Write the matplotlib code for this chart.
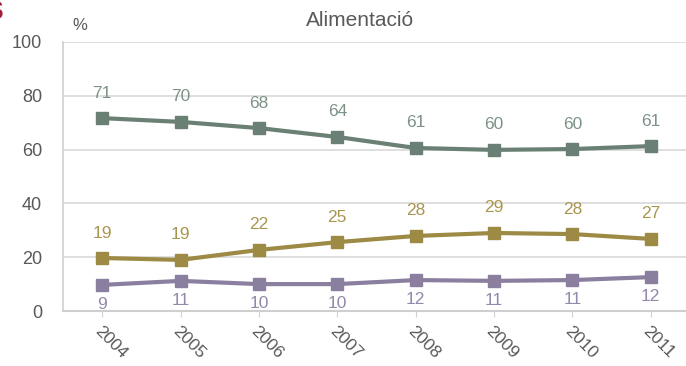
"""
Alimentació: percentage series 2004-2011
"""

import numpy as np
from matplotlib import pyplot as plt

years = ['2004', '2005', '2006', '2007', '2008', '2009', '2010', '2011']
green_vals = [71.7, 70.3, 68.0, 64.7, 60.6, 59.9, 60.2, 61.3]
green_labels = ['71', '70', '68', '64', '61', '60', '60', '61']
gold_vals = [19.7, 19.0, 22.7, 25.6, 27.9, 29.0, 28.6, 26.8]
gold_labels = ['19', '19', '22', '25', '28', '29', '28', '27']
purple_vals = [9.7, 11.2, 10.0, 10.0, 11.5, 11.2, 11.5, 12.6]
purple_labels = ['9', '11', '10', '10', '12', '11', '11', '12']


def main():
    plt.rcParams['font.family'] = ['Liberation Sans', 'DejaVu Sans']
    fig = plt.figure(figsize=(6.86, 3.66), dpi=100)
    ax = fig.add_axes([63 / 686, 55 / 366, 623 / 686, 269 / 366])

    x = np.arange(len(years))
    series = [
        (green_vals, green_labels, '#6a8074', '#7d9286', 1),
        (gold_vals, gold_labels, '#9c8a45', '#a8964f', 1),
        (purple_vals, purple_labels, '#8b7fa0', '#9488aa', -1),
    ]
    for vals, labels, color, lcolor, side in series:
        ax.plot(x, vals, '-', color=color, lw=3, marker='s', markersize=9,
                solid_capstyle='round', zorder=3)
        for xi, v, lab in zip(x, vals, labels):
            off = 18 if side > 0 else -14
            ax.annotate(lab, (xi, v), xytext=(0, off), textcoords='offset points',
                        ha='center', va='center', color=lcolor, fontsize=12.5)

    ax.set_ylim(0, 100)
    ax.set_xlim(-0.5, 7.45)
    ax.set_yticks(np.arange(0, 101, 20))
    ax.set_xticks(x)
    ax.set_xticklabels(years, rotation=-45, ha='left', va='top',
                       rotation_mode='anchor')
    ax.tick_params(axis='y', length=0, pad=15, labelsize=13, labelcolor='#595959')
    ax.tick_params(axis='x', length=4, color='#d0d0d0', pad=5, labelsize=12.5,
                   labelcolor='#595959')
    ax.grid(axis='y', color='#d9d9d9', lw=1.2)
    ax.set_axisbelow(True)
    for s in ['top', 'right']:
        ax.spines[s].set_visible(False)
    ax.spines['left'].set_color('#d0d0d0')
    ax.spines['bottom'].set_color('#cfcfcf')
    ax.spines['left'].set_linewidth(1.2)
    ax.spines['bottom'].set_linewidth(1.5)

    fig.text(0.525, 0.945, 'Alimentació', ha='center', va='center',
             fontsize=15, color='#595959')
    fig.text(80 / 686, 1 - 25 / 366, '%', ha='center', va='center',
             fontsize=12, color='#595959')
    fig.text(-0.02, 1 - 12 / 366, 'S', ha='left', va='center',
             fontsize=18, color='#a0203a', fontweight='bold')

    plt.savefig('out.png', dpi=100)
    plt.close('all')


if __name__ == "__main__":
    main()
